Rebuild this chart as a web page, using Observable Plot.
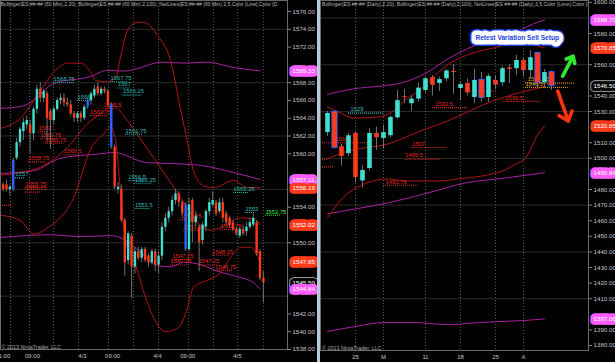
<!DOCTYPE html>
<html><head><meta charset="utf-8">
<script src="https://cdn.jsdelivr.net/npm/d3@7"></script>
<script src="https://cdn.jsdelivr.net/npm/@observablehq/plot@0.6"></script>
<style>
html,body{margin:0;padding:0;background:#000;}
#wrap{display:flex;width:615px;height:362px;overflow:hidden;background:#000;}
#left{width:317px;flex:0 0 317px;}
#divider{width:3px;flex:0 0 3px;height:362px;background:#b9c9dc;}
#right{width:295px;flex:0 0 295px;}
svg{display:block;}
</style></head>
<body><div id="wrap"><div id="left"></div><div id="divider"></div><div id="right"></div></div>
<script>
// ================= 60-minute panel data =================
const hourHeader = "Bollinger(ES ##-## (60 Min),2,20), Bollinger(ES ##-## (60 Min),2,100), NetLines(ES ##-## (60 Min),3,5,Color [Line],Color [D";
const hourOpen = [1556.5,1556.5,1556,1556,1559.5,1561.25,1562.5,1563.25,1563.25,1562.25,
  1565,1567.25,1566.25,1566.75,1564.75,1563.75,1565,1566,1566.25,1565.75,
  1565.5,1564.5,1564,1564.5,1564,1565.25,1566,1566.5,1567.5,1566.75,
  1567.25,1567,1565.5,1560.75,1556,1556,1552.5,1548,1550.75,1547.25,
  1549,1548.25,1549.25,1548.5,1547.75,1549,1547.5,1548.5,1551.75,1552.75,
  1553.5,1554.75,1555.5,1554.5,1554.25,1549.25,1554.75,1552.25,1551.75,1550.25,
  1551.75,1553.5,1554.25,1554.5,1553.5,1554.5,1553.25,1552.75,1552.25,1551.5,
  1550.75,1551.5,1551.25,1551.75,1552,1552.25,1549,1546];
const hourHigh = [1556.75,1557,1556.5,1559.5,1561.75,1563,1564,1564.25,1563.75,1565.25,
  1567.75,1568,1567.25,1567,1565,1565.25,1566.25,1566.75,1566.75,1566.25,
  1566,1564.75,1564.75,1564.75,1565.5,1566.25,1567,1567.75,1568,1567.5,
  1567.5,1567.25,1565.75,1561,1556.75,1556.5,1552.75,1551.25,1551,1549.5,
  1549.5,1549.5,1549.5,1548.75,1549.25,1549.25,1549,1552.25,1553.25,1554,
  1555.25,1556,1555.75,1554.75,1554.5,1555,1555,1553.5,1552,1552.25,
  1553.75,1555,1555.75,1554.75,1555,1555,1553.5,1553,1552.5,1551.75,
  1551.75,1552,1552.25,1552.75,1553.25,1552.5,1549.25,1546.75];
const hourLow = [1555.75,1555.75,1555.25,1555.75,1559.25,1560.75,1561.5,1562.75,1560,1561.5,
  1564.5,1565.75,1565.75,1561.5,1560.5,1563.25,1564.75,1565.5,1565.25,1565.25,
  1564.25,1563.5,1563.5,1563.5,1563.75,1565,1565.5,1566.25,1566.5,1566.5,
  1566.75,1565.25,1560.5,1556,1555.5,1552.25,1546.25,1547.5,1543.75,1546.5,
  1548,1547.75,1547.75,1547.25,1547.5,1546.75,1546.5,1548,1551.25,1552.25,
  1553,1554.25,1554,1553,1549,1549,1550,1551.75,1546.75,1549.75,
  1551.25,1553,1554,1553,1553.25,1552.25,1552,1551.75,1551.25,1550.75,
  1550.5,1550.75,1550.75,1551.5,1551.75,1548.5,1545.75,1543.25];
const hourClose = [1556,1556,1556.25,1559.25,1561.25,1562.75,1563.5,1563.75,1562.25,1565,
  1567.25,1566.25,1567,1564,1563.75,1565,1566,1566.25,1565.75,1565.5,
  1564.5,1564,1564.5,1564,1565.25,1566,1566.75,1567.25,1566.75,1567.25,
  1567,1565.5,1560.75,1556.25,1556.25,1552.5,1547.75,1551,1547.25,1549,
  1548.25,1549.25,1548,1547.75,1549,1547.5,1548.5,1551.75,1552.75,1553.5,
  1554.75,1555.5,1554.5,1553.25,1549.25,1554.25,1552.25,1553,1550,1552,
  1553.5,1554.5,1554.75,1553.25,1554.5,1552.75,1552.25,1552,1551.5,1551,
  1551.5,1551,1551.75,1552.25,1552.75,1548.75,1546,1545.5];
const hourSignalBars = [3, 25, 32, 54];
const hourTickPos = [0.4, 8.7, 23.5, 32.4, 45.7, 54.6, 69.3];
const hourTickLabels = ["1:00", "09:00", "4/3", "09:00", "4/4", "09:00", "4/5"];
const hourGridPos = [2.2, 7.8, 14.9, 22.3, 31.2, 38.6, 46, 54.9, 62.2, 69.4, 77];
const hourPriceGrid = [1544, 1550, 1556, 1562, 1568, 1574];
const hourPriceTicks = [1538,1540,1542,1544,1546,1548,1550,1552,1554,1556,1558,1560,1562,1564,1566,1568,1570,1572,1574,1576];
const hourBB100Upper = [[-0.77,1565.1],[6,1565.4],[9,1566],[14.9,1567.9],[25.9,1568.7],[30.9,1569.4],[35.6,1569.3],[40.7,1569.7],[46.6,1570.3],[53.4,1570.2],[60.5,1570.3],[68.2,1569.7],[76,1569.33]];
const hourBB100Mid = [[-0.77,1557.8],[9,1558.1],[17,1559.5],[28.8,1560],[32.7,1560.15],[42.7,1559],[50.4,1558.9],[58.4,1558.7],[68.2,1557.9],[76,1557.11]];
const hourBB100Lower = [[-0.77,1550.6],[14,1550.9],[22.9,1550.7],[31.8,1550.8],[36.2,1550.3],[40.7,1548.9],[45.7,1547.45],[49.5,1547.3],[53.4,1547.8],[58.4,1547.55],[63.4,1546.8],[68.2,1546.3],[74.1,1545.5],[76,1544.84]];
const hourBB20Upper = [[-0.77,1562.85],[5.1,1564],[11.7,1567.5],[15.5,1569.4],[19.1,1570.2],[22.9,1570.2],[25.9,1569.15],[27.3,1568.25],[30.9,1568.1],[33.3,1568.6],[34.7,1570.8],[36.8,1573.9],[39.8,1574.8],[41.5,1574.8],[45.7,1573.3],[49.5,1570.5],[52.5,1565],[54.6,1561.2],[56.3,1558.1],[59.3,1556.4],[62.3,1556.2],[68.2,1557],[72.3,1556.2],[76,1556.19]];
const hourBB20Mid = [[-0.77,1557.6],[5.1,1557.9],[11.1,1558.5],[19,1560.7],[25,1563.4],[28.8,1564.5],[32.7,1565.4],[36.2,1564],[41.5,1561.2],[48.6,1557.3],[52.5,1555.1],[57.5,1552.3],[61.4,1551.4],[64.9,1551.8],[70.2,1552.8],[74.1,1552.7],[76,1552.02]];
const hourBB20Lower = [[-0.77,1553.1],[5.1,1552.5],[9,1551],[14,1551.9],[20.5,1554.75],[26.4,1560.9],[29.4,1562.1],[31.8,1563],[33.3,1561.5],[34.7,1555.9],[36.2,1550.3],[38.6,1548.2],[41.5,1544.6],[44.5,1541.6],[48,1540],[51.6,1540.4],[54.6,1542.7],[56.3,1545],[60.5,1545.8],[63.4,1546.3],[68.2,1548.8],[70.2,1549.5],[73.2,1549.5],[76,1547.85]];
// NetLines: label, price, first bar, last bar, type
const hourNetLabels = ["1568.75","1566","1567.75","1567","1566.25","1565.5","1563.75","1562","1561.75","1560.75","1560.5","1558.75","1557","1555.75","1555.75","","1561.75","1556.5","1556.25","1553.5","1555.25","1553","1552.75","1552.25","1551.25","1552.75","1548.25","1547.25","1547.25","1547.25","1546.75"];
const hourNetPrices = [1568,1566,1568.1,1567.4,1566.6,1565.1,1564.3,1562.5,1561.7,1561.2,1559.9,1559.1,1557.3,1556.2,1555.7,1554.2,1562.2,1557,1556.7,1553.85,1555.65,1553.4,1553.1,1552.6,1551.4,1551.5,1548.6,1548.1,1547.5,1547.5,1546.9];
const hourNetStart = [14.9,22,31.8,34,35.5,29.8,25.8,10.5,11,12.5,18,7.5,3.7,6.6,6.6,-0.8,36.2,37,39,39,68.2,71.7,77.6,52.5,53.4,64.3,61.9,50.1,49.5,57.8,62.8];
const hourNetEnd = [21.4,26.5,37,37.5,41,33.5,31,13.5,16.5,18,22.5,12.5,6.6,11.7,11,2.8,41.5,41.5,44,43.5,72.6,74.7,82,57.5,58.4,69.4,67.3,55.4,54.6,63.4,68.2];
const hourNetType = ["support","support","support","support","support","resist","resist","resist","resist","resist","resist","resist","support","resist","resist","resist","support","support","support","support","support","support","trigger","resist","resist","resist","resist","resist","resist","resist","resist"];
const hourTagText = ["1569.33","1557.11","1556.19","1552.02","1547.85","1545.50","1544.84"];
const hourTagPrice = [1569.33,1557.11,1556.19,1552.02,1547.85,1545.50,1544.84];
const hourTagType = ["bb100","bb100","bb20","bb20","bb20","last","bb100"];

// ================= Daily panel data =================
const dayHeader = "Bollinger(ES ##-## (Daily),2,20), Bollinger(ES ##-## (Daily),2,100), NetLines(ES ##-## (Daily),3,5,Color [Lime],Color [Co";
const dayOpen = [1516.5,1529.5,1507.5,1503,1516,1485.5,1493.5,1516,1512.75,1514.5,
  1526,1539.5,1535,1538,1543.5,1551.75,1548,1551,1555.75,1544.75,
  1548,1539,1550,1539,1550,1548.5,1558,1557.5,1562.75,1556.25,
  1567.25,1548.5,1555];
const dayHigh = [1530,1530.5,1509,1516,1517,1495,1519,1520,1521,1527,
  1543.5,1544,1540,1548.5,1552,1553,1552,1557,1560,1549,
  1551,1557,1555,1554,1553,1559,1560,1566,1564,1569,
  1568,1557,1556];
const dayLow = [1514,1506,1495,1501,1484.5,1481,1492,1505,1506,1513,
  1525,1535,1530,1536,1542,1540,1543,1549,1541,1537,
  1540,1535,1536,1536,1544,1546,1548,1553,1552,1551,
  1545,1545,1543.5];
const dayClose = [1528.75,1507,1501.25,1514.5,1487.75,1492.25,1516,1513.25,1516.5,1526.25,
  1537,1539,1538,1545,1551,1546.75,1550.5,1556,1555,1547.25,
  1542,1550,1539,1552.5,1547,1557.5,1557,1562.75,1556.25,1564.5,
  1548.5,1555,1546.75];
const daySignalBars = [1, 22, 30, 32];
const dayTickPos = [4, 8, 14, 19, 24, 28];
const dayTickLabels = ["25", "M", "11", "18", "25", "A"];
const dayPriceGrid = [1410, 1440, 1470, 1500, 1530, 1560, 1590];
const dayPriceTicks = [1380,1390,1400,1410,1420,1430,1440,1450,1460,1470,1480,1490,1500,1510,1520,1530,1540,1550,1560,1570,1580,1590,1600];
const dayBB100Upper = [[0,1541],[3.6,1544.5],[7.9,1546.5],[10.7,1548.5],[14,1554.5],[17.3,1564],[20.1,1570.5],[23.6,1576.5],[26.4,1580],[29.3,1586],[31,1588.7]];
const dayBB100Mid = [[0,1464.4],[4,1467.6],[8.7,1471.5],[14.4,1477.9],[19.7,1484.2],[25.4,1487.4],[31,1490.84]];
const dayBB100Lower = [[0,1389],[4,1392.2],[8,1394.7],[13,1394.7],[14.4,1394.1],[18.3,1393.4],[19.7,1394.1],[24.3,1395.3],[28,1396],[31,1397.06]];
const dayBB20Upper = [[0,1532.9],[1.9,1529],[3.7,1525.8],[7.1,1526.5],[9,1529],[10.9,1536.7],[13.3,1544.4],[15.7,1554.6],[17.3,1560.4],[20.7,1567.4],[23.6,1570.6],[27.9,1575.1],[30.1,1571.9],[31,1570.85]];
const dayBB20Mid = [[0,1499.6],[2.9,1504.7],[8.6,1509.2],[13.3,1517.5],[17.1,1523.9],[23.6,1536.7],[28.3,1543.1],[31,1545.85]];
const dayBB20Lower = [[0,1461.9],[3,1477.9],[8.7,1486.8],[11.1,1485.5],[15.9,1485.5],[18.7,1486.8],[25,1491.9],[26.9,1496.4],[28.3,1500.2],[30.1,1515.6],[31,1520.85]];
const dayNetLabels = ["1529","1510","","","1507","1499.5","1482.75","1532.5","1536.5","","1548.25","1546.5"];
const dayNetPrices = [1529,1510,1499.5,1494.5,1507,1499.5,1482.75,1532.5,1536.5,1543,1548.25,1545.5];
const dayNetStart = [3,-1,-1,-1,12.1,11.1,8,15,25.1,19.7,28.3,28.3];
const dayNetEnd = [8,5.7,0,0.9,17.1,16.1,13,20,30.4,24.1,35.4,34.4];
const dayNetLabelAt = [3.3,1.1,0,0,12.1,11.1,8.3,15.4,25.4,0,28.6,28.3];
const dayNetType = ["support","resist","resist","resist","resist","resist","resist","resist","resist","resist","zone","zone"];
const dayTagText = ["1588.70","1570.85","1546.50","1520.85","1490.84","1397.06"];
const dayTagPrice = [1588.70,1570.85,1546.50,1520.85,1490.84,1397.06];
const dayTagType = ["bb100","bb20","last","bb20","bb100","bb100"];
const setupNote = "Retest Variation Sell Setup";
const setupBar = 27.1, setupPrice = 1577;
const arrowDir = ["long", "short"];
const arrowFromBar = [33.6, 32.9], arrowFromPrice = [1552.7, 1543.1];
const arrowToBar = [35.1, 34.4], arrowToPrice = [1565.5, 1523.9];
const copyright = "© 2013 NinjaTrader, LLC";

// ================= styles =================
const FONT = "'Liberation Sans', Arial, sans-serif";
const C = {up: "#3fe0cf", down: "#ff3a1a", signal: "#2f62ff", wick: "#8c8c8c",
  bb100: "#a8229f", bb20: "#b01616", grid: "#2b2b2b", vgrid: "#5c5c5c", text: "#c4c4c4"};
const netColor = {support: "#2bb8b0", resist: "#e0281a", trigger: "#33ee33", zone: "#d9a21e"};
const tagFill = {bb100: "#ff5cff", bb20: "#ff3b1c", last: "#060606"};
const tagBorder = {bb100: "#ff5cff", bb20: "#ff3b1c", last: "#b0b0b0"};
const arrowColor = {long: "#2ee82e", short: "#ff3210"};

function candles(o, h, l, c, signal) {
  return o.map((v, i) => ({i, open: v, high: h[i], low: l[i], close: c[i], signal: signal.includes(i)}));
}
function pts(a) { return a.map(([i, p]) => ({i, p})); }
function bandMarks(list, color) {
  return list.map(a => Plot.line(pts(a), {x: "i", y: "p", stroke: color, strokeWidth: 1, curve: "monotone-x"}));
}
function tagMarks(tags) {
  const base = {y: "price", text: "text", frameAnchor: "right", textAnchor: "start", dx: 5, fontSize: 6.2, fontFamily: FONT, strokeLinejoin: "round"};
  return [
    Plot.text(tags, {...base, fill: "none", stroke: d => tagBorder[d.type], strokeWidth: 7.6}),
    Plot.text(tags, {...base, fill: "#ffffff", stroke: d => tagFill[d.type], strokeWidth: 6, paintOrder: "stroke"})
  ];
}
function netMarks(net) {
  return [
    Plot.ruleY(net, {y: "price", x1: "i1", x2: "i2", stroke: d => netColor[d.type], strokeWidth: 1.1, strokeDasharray: "1,1"}),
    Plot.text(net.filter(d => d.label), {x: "at", y: "price", text: "label", textAnchor: "start", dy: -3.5, fill: d => netColor[d.type], fontSize: 5.8, fontFamily: FONT})
  ];
}
function candleMarks(data, bodyWidth, outlineSignal) {
  const marks = [Plot.ruleX(data, {x: "i", y1: "low", y2: "high", stroke: C.wick, strokeWidth: 0.8})];
  if (outlineSignal) {
    marks.push(Plot.ruleX(data.filter(d => d.signal), {x: "i", y1: d => Math.max(d.open, d.close) + 0.6, y2: d => Math.min(d.open, d.close) - 0.6, stroke: C.signal, strokeWidth: bodyWidth + 1.6}));
    marks.push(Plot.ruleX(data, {x: "i", y1: "open", y2: "close", stroke: d => d.close >= d.open ? C.up : C.down, strokeWidth: bodyWidth}));
  } else {
    marks.push(Plot.ruleX(data, {x: "i", y1: "open", y2: "close", stroke: d => d.signal ? C.signal : (d.close >= d.open ? C.up : C.down), strokeWidth: bodyWidth}));
  }
  return marks;
}
// axis labels hidden beneath a price tag are not drawn
function visibleTicks(ticks, tagPrices, gap) {
  return ticks.filter(t => !tagPrices.some(p => Math.abs(p - t) < gap));
}

// ================= 60-minute panel =================
const hourCandles = candles(hourOpen, hourHigh, hourLow, hourClose, hourSignalBars);
const hourNet = hourNetLabels.map((label, k) => ({label, price: hourNetPrices[k], i1: hourNetStart[k], i2: hourNetEnd[k], at: hourNetStart[k], type: hourNetType[k]}));
const hourTags = hourTagText.map((text, k) => ({text, price: hourTagPrice[k], type: hourTagType[k]}));
const hourTicks = hourTickPos.map((pos, k) => ({pos, label: hourTickLabels[k]}));

const left = Plot.plot({
  width: 317, height: 362, marginLeft: 0, marginRight: 30, marginTop: 0, marginBottom: 13,
  style: {background: "#000", color: C.text, fontFamily: FONT},
  x: {domain: [-0.77, 84.14], axis: null},
  y: {domain: [1538, 1577.24], axis: null},
  marks: [
    Plot.ruleY(hourPriceGrid, {stroke: C.grid}),
    Plot.ruleX(hourGridPos, {stroke: C.vgrid, strokeDasharray: "1,2"}),
    ...bandMarks([hourBB100Upper, hourBB100Mid, hourBB100Lower], C.bb100),
    ...bandMarks([hourBB20Upper, hourBB20Mid, hourBB20Lower], C.bb20),
    ...netMarks(hourNet),
    ...candleMarks(hourCandles, 2.4, false),
    Plot.axisY({anchor: "right", ticks: visibleTicks(hourPriceTicks, hourTagPrice, 0.95), tickFormat: d3.format(".2f"), tickSize: 3, tickPadding: 2, fontSize: 6.2, label: null, stroke: "#888"}),
    Plot.text(hourTicks, {x: "pos", text: "label", frameAnchor: "bottom", lineAnchor: "top", dy: 4, fontSize: 6, fill: C.text}),
    ...tagMarks(hourTags),
    Plot.text([hourHeader], {frameAnchor: "top-left", lineAnchor: "top", dy: 1.5, dx: 0, fontSize: 5.05, fill: "#b8b8b8", clip: true}),
    Plot.text([copyright], {frameAnchor: "bottom-left", lineAnchor: "bottom", dx: 1, dy: -1, fontSize: 5.4, fill: "#aaa"}),
    Plot.frame({stroke: "#6a6a6a"})
  ]
});
document.getElementById("left").append(left);

// ================= Daily panel =================
const dayCandles = candles(dayOpen, dayHigh, dayLow, dayClose, daySignalBars);
const dayNet = dayNetLabels.map((label, k) => ({label, price: dayNetPrices[k], i1: dayNetStart[k], i2: dayNetEnd[k], at: dayNetLabelAt[k], type: dayNetType[k]}));
const dayTags = dayTagText.map((text, k) => ({text, price: dayTagPrice[k], type: dayTagType[k]}));
const dayTicks = dayTickPos.map((pos, k) => ({pos, label: dayTickLabels[k]}));
const arrows = arrowDir.map((dir, k) => ({dir, x1: arrowFromBar[k], y1: arrowFromPrice[k], x2: arrowToBar[k], y2: arrowToPrice[k]}));
const note = [{text: setupNote, i: setupBar, p: setupPrice}];

const right = Plot.plot({
  width: 295, height: 362, marginLeft: 0, marginRight: 27, marginTop: 0, marginBottom: 12,
  style: {background: "#000", color: C.text, fontFamily: FONT},
  x: {domain: [-1, 37.29], axis: null},
  y: {domain: [1376.8, 1601.2], axis: null},
  marks: [
    Plot.ruleY(dayPriceGrid, {stroke: C.grid}),
    Plot.ruleX(dayTickPos, {stroke: C.vgrid, strokeDasharray: "1,2"}),
    ...bandMarks([dayBB100Upper, dayBB100Mid, dayBB100Lower], C.bb100),
    ...bandMarks([dayBB20Upper, dayBB20Mid, dayBB20Lower], C.bb20),
    ...netMarks(dayNet),
    ...candleMarks(dayCandles, 4.6, true),
    Plot.arrow(arrows, {x1: "x1", y1: "y1", x2: "x2", y2: "y2", stroke: d => arrowColor[d.dir], strokeWidth: 3.6, headLength: 8, headAngle: 80}),
    Plot.text(note, {x: "i", y: "p", text: "text", fontSize: 6.6, fontWeight: "bold", fill: "none", stroke: "#1d3fe0", strokeWidth: 12, strokeLinejoin: "round", fontFamily: FONT}),
    Plot.text(note, {x: "i", y: "p", text: "text", fontSize: 6.6, fontWeight: "bold", fill: "#1d3fe0", stroke: "#ffffff", strokeWidth: 9, strokeLinejoin: "round", paintOrder: "stroke", fontFamily: FONT}),
    Plot.axisY({anchor: "right", ticks: visibleTicks(dayPriceTicks, dayTagPrice, 5.2), tickFormat: d3.format(".2f"), tickSize: 3, tickPadding: 2, fontSize: 6.2, label: null, stroke: "#888"}),
    Plot.text(dayTicks, {x: "pos", text: "label", frameAnchor: "bottom", lineAnchor: "top", dy: 4, fontSize: 6, fill: C.text}),
    ...tagMarks(dayTags),
    Plot.text([dayHeader], {frameAnchor: "top-left", lineAnchor: "top", dy: 1.5, dx: 1.5, fontSize: 5.1, fill: "#b8b8b8", clip: true}),
    Plot.text([copyright], {frameAnchor: "bottom-left", lineAnchor: "bottom", dx: 1.5, dy: -1, fontSize: 5.4, fill: "#aaa"}),
    Plot.frame({stroke: "#6a6a6a"})
  ]
});
document.getElementById("right").append(right);
</script>
</body></html>
